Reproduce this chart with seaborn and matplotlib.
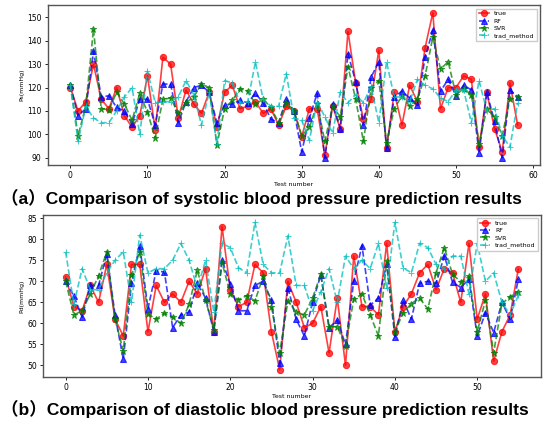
import numpy as np
import matplotlib
matplotlib.use("Agg")
from matplotlib import pyplot as plt
import seaborn as sns

# systolic (top panel), 59 tests
sys_true = [120, 110, 114, 130, 115, 111, 120, 108, 103, 108, 125, 102, 133, 130, 107, 119, 113, 109, 118, 103,
            118, 121, 111, 112, 114, 109, 111, 104, 112, 110, 99, 111, 111, 91, 112, 102.5, 144, 122, 106.5, 115,
            136, 94, 118, 104, 121, 114, 137, 152, 111, 120, 120, 125, 123.5, 94.5, 118, 102.5, 92.5, 122, 104]
sys_rf = [121, 108, 111, 135.5, 116, 116.5, 111.5, 110, 104.5, 115, 115, 104, 121.5, 121.5, 105, 114, 120, 121, 118, 105,
          112.5, 113, 114.5, 113.5, 117.5, 113.5, 106.5, 105, 115, 110, 92.5, 107, 117.5, 90, 113, 102.5, 134.5, 122.5, 104, 124.5,
          131, 94, 116, 118.5, 115.5, 112.5, 133, 144.5, 118.5, 123.5, 116.5, 121, 119, 92, 118, 105.5, 90, 119, 116]
sys_svr = [121, 99.5, 112, 145, 111, 110.5, 118, 113, 106, 117.5, 109.5, 98.5, 115, 115.5, 109, 113.5, 116, 121.5, 120, 95.5,
           111, 114.5, 119.5, 118.5, 113, 115, 111.5, 105, 113.5, 110, 99.5, 103, 113, 97, 112, 107.5, 129, 115, 97, 120,
           123, 96.5, 111, 116.5, 112, 115, 125, 141.5, 128, 131, 117, 119.5, 117, 96, 111, 107.5, 99.5, 115, 116]
sys_trad = [121, 97, 112, 107, 105, 105, 110, 116, 120, 100, 127, 113.5, 114, 114, 116, 123, 117, 104, 118, 96,
            123, 122, 113.5, 114, 131, 115, 112, 112, 126, 107, 106, 97.5, 114, 107.5, 100.5, 118, 113.5, 117, 113.5, 120.5,
            105, 131, 116, 116, 114, 123.5, 121, 119.5, 115.5, 114, 119, 119, 105, 123, 110, 111, 99.5, 94.5, 113.5]

# diastolic (bottom panel), 56 tests
dia_true = [71, 64, 63, 69, 65, 74, 61, 57, 74, 74, 58, 69, 65, 67, 65, 70, 67, 73, 58, 83,
            68, 64, 65, 74, 72, 58, 49, 70, 65, 59, 60, 64, 53, 66, 50, 76, 64, 64, 62, 79,
            58, 64, 67, 72, 74, 68, 73, 72, 65, 79, 61, 67, 51, 58, 62, 73]
dia_rf = [70, 66.5, 61.5, 69, 69, 76.5, 62, 51.5, 69.5, 78.5, 63.5, 72.5, 72.2, 59, 62, 62.7, 69.5, 66, 58, 75,
          69.3, 63, 63, 69, 70, 65.5, 50.5, 68.5, 61, 57, 65, 71.5, 59, 60.7, 55, 70, 78.5, 64.3, 66, 74,
          56.8, 65.5, 61, 69.5, 70, 69.5, 76, 69.8, 68.5, 70.5, 57, 62.5, 57.8, 65, 61, 70.5]
dia_svr = [70, 62, 63, 67, 71.3, 77, 61, 53.5, 71.5, 77, 62.2, 61, 62.4, 61.5, 60, 64.5, 72.6, 65.5, 58.5, 74.5,
           67, 65.6, 66.6, 65.3, 71.2, 64, 53, 65.3, 62.7, 62, 66, 71.7, 59.2, 59.2, 54.7, 65.7, 67, 62, 57, 74.7,
           58, 62.5, 64.7, 66, 63.4, 72, 78, 71.7, 69.8, 71.2, 58, 65.5, 53, 64.7, 66.3, 67.5]
dia_trad = [77, 64.5, 73, 68, 68, 72, 75, 77, 65, 81, 72, 73, 73, 75, 79, 75, 68.3, 75, 62.7, 79,
            78, 73.2, 72, 84, 74, 72, 72, 80.8, 69, 69, 63, 67.5, 73, 65, 76, 73, 75, 73, 79, 68.3,
            84, 73.2, 72, 79, 78, 74, 73, 76, 76, 67, 79, 70, 72, 65, 62, 66.7]

series_labels = ["true", "RF", "SVR", "trad_method"]
series_styles = [("r", "o", "-"), ("b", "^", "--"), ("g", "*", "--"), ("c", "+", "--")]

plt.rcParams['font.family'] = ['DejaVu Sans']
fig = plt.figure(figsize=(5.55, 4.26), dpi=100)

def panel(rect, data, ylabel):
    ax = fig.add_axes(rect)
    for vals, lab, (c, m, ls) in zip(data, series_labels, series_styles):
        sns.lineplot(x=np.arange(len(vals)), y=vals, ax=ax, color=c, marker=m, linestyle=ls,
                     linewidth=1.2, markersize=4.5, markeredgecolor=c, alpha=0.75, label=lab)
    ax.set_xlabel("Test number", fontsize=4.5, labelpad=1)
    ax.set_ylabel(ylabel, fontsize=4.5, labelpad=2)
    ax.tick_params(labelsize=5.5, length=2.5, width=0.6, pad=2)
    for s in ax.spines.values():
        s.set_color("#555555")
        s.set_linewidth(1.0)
    ax.legend(loc="upper right", fontsize=4.5, handlelength=1.6, borderpad=0.4, labelspacing=0.3,
              framealpha=1, edgecolor="#cccccc", fancybox=False)
    return ax

ax1 = panel([48 / 555, 1 - 165 / 426, 492 / 555, 159.5 / 426], [sys_true, sys_rf, sys_svr, sys_trad], "Ps(mmHg)")
ax1.set_xticks([0, 10, 20, 30, 40, 50, 60])
ax2 = panel([43 / 555, 1 - 377 / 426, 498 / 555, 162 / 426], [dia_true, dia_rf, dia_svr, dia_trad], "Pd(mmHg)")
ax2.set_xticks([0, 10, 20, 30, 40, 50])

cap_font = ['Liberation Sans', 'Noto Sans CJK SC']
fig.text(0.002, 1 - 198 / 426, "（a）Comparison of systolic blood pressure prediction results",
         fontsize=12.6, fontweight="bold", family=cap_font, ha="left", va="center")
fig.text(0.002, 1 - 409 / 426, "（b）Comparison of diastolic blood pressure prediction results",
         fontsize=12.6, fontweight="bold", family=cap_font, ha="left", va="center")

fig.savefig("out.png", dpi=100, facecolor="white")
